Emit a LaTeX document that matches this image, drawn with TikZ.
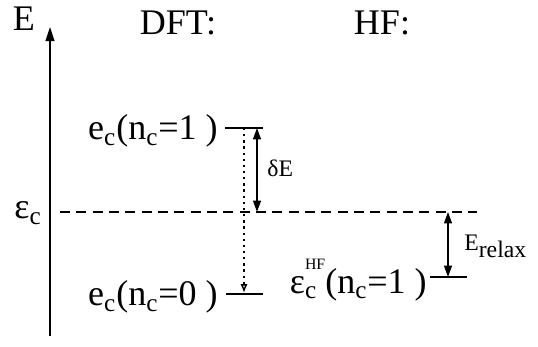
\documentclass[tikz,border=0pt]{standalone}
\usepackage{fontspec}
\setmainfont{Liberation Serif}
\usetikzlibrary{arrows.meta}

\newcommand{\sub}[1]{\textsubscript{#1}}
\newcommand{\hfsup}{\makebox[11.5pt][l]{\rlap{\raisebox{1.45ex}{\fontsize{9}{9}\selectfont HF}}\sub{c}}}

\begin{document}
\begin{tikzpicture}[
		x=0.02cm, y=-0.02cm,
		big/.style  = {inner sep=0pt, font=\fontsize{20.5}{20.5}\selectfont},
		small/.style = {inner sep=0pt, font=\fontsize{13.5}{13.5}\selectfont},
		lvl/.style  = {line width=1pt},
		ax/.style   = {-{Triangle[length=8pt, width=5pt]}, line width=0.9pt},
		gap/.style  = {{Triangle[length=6.5pt, width=4.5pt]}-{Triangle[length=6.5pt, width=4.5pt]}, line width=0.9pt},
		dot/.style  = {-{Latex[open, length=5pt, width=4pt]}, thick, dash pattern=on 1.3pt off 2.2pt},
		ref/.style  = {dash pattern=on 5.7pt off 3.6pt, line width=0.8pt}
		]
		\useasboundingbox (0,0) rectangle (538,347);
		
		%Axis
		\coordinate	(axbot)	at	(50, 336);
		\coordinate	(axtop)	at	(50, 27);
		\node[big]	(E)		at	(24, 19)	{E};
		\node[big]	(dft)	at	(178, 23)	{DFT:};
		\node[big]	(hf)	at	(382, 23)	{HF:};
		
		%Levels
		\coordinate	(up1)	at	(225, 128);
		\coordinate	(up2)	at	(263, 128);
		\coordinate	(lo1)	at	(226, 294);
		\coordinate	(lo2)	at	(263, 294);
		\coordinate	(hf1)	at	(430, 277);
		\coordinate	(hf2)	at	(467, 277);
		\coordinate	(ref1)	at	(60, 212);
		\coordinate	(ref2)	at	(477, 212);
		\coordinate	(dtop)	at	(244, 128);
		\coordinate	(dbot)	at	(244, 293);
		\coordinate	(gtop)	at	(257, 128);
		\coordinate	(gbot)	at	(257, 212);
		\coordinate	(rtop)	at	(448, 212);
		\coordinate	(rbot)	at	(448, 277);
		
		%Labels
		\node[big]	(ec)	at	(28, 213)	{ε\sub{c}};
		\node[big, anchor=east]	(eone)	at	(218, 131)	{e\sub{c}(n\sub{c}=1 )};
		\node[big, anchor=east]	(ezero)	at	(218, 297)	{e\sub{c}(n\sub{c}=0 )};
		\node[big, anchor=east]	(ehf)	at	(427, 280)	{ε\hfsup(n\sub{c}=1 )};
		\node[small, anchor=west]	(de)	at	(267, 168)	{δE};
		\node[small, anchor=west]	(erel)	at	(464, 246)	{E\raisebox{-0.3em}{relax}};
		
		%Lines
		\draw[ax]	(axbot)	--	(axtop);
		\draw[ref]	(ref1)	--	(ref2);
		\draw[lvl]	(up1)	--	(up2);
		\draw[lvl]	(lo1)	--	(lo2);
		\draw[lvl]	(hf1)	--	(hf2);
		\draw[dot]	(dtop)	--	(dbot);
		\draw[gap]	(gtop)	--	(gbot);
		\draw[gap]	(rtop)	--	(rbot);
	\end{tikzpicture}
\end{document}
